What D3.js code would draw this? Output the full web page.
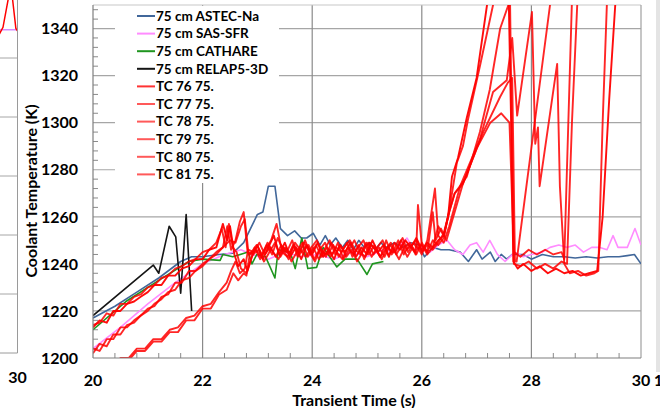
<!DOCTYPE html>
<html>
<head>
<meta charset="utf-8">
<script src="https://cdn.jsdelivr.net/npm/d3@7"></script>
<style>
  body { margin: 0; background: #fff; }
  svg { display: block; font-family: Lato, "Open Sans", sans-serif; }
</style>
</head>
<body>
<div id="chart"></div>
<script>
// tick values
const xTicks = [20, 22, 24, 26, 28, 30];
const yTicks = [1200, 1220, 1240, 1260, 1280, 1300, 1320, 1340];

// code results
const astec = [[20.0,1217],[20.4,1222],[20.8,1228],[21.2,1234],[21.6,1241],[21.8,1243],[22.0,1243],[22.3,1244],[22.55,1244.5],[22.75,1249],[23.0,1261],[23.1,1262],[23.2,1273],[23.32,1273],[23.42,1255],[23.55,1252],[23.68,1254],[23.8,1251],[23.9,1251],[24.02,1253],[24.14,1248],[24.24,1252],[24.33,1248],[24.43,1251],[24.55,1247],[24.65,1250],[24.75,1246],[24.85,1250],[24.95,1247],[25.05,1249],[25.15,1246],[25.25,1249],[25.35,1247],[25.5,1249],[25.65,1247],[25.8,1249],[25.95,1248],[26.05,1243],[26.2,1247],[26.35,1246],[26.5,1246],[26.7,1245],[26.85,1241],[27.0,1246],[27.1,1242],[27.25,1245],[27.34,1241],[27.45,1244],[27.55,1242],[27.65,1244],[27.85,1244],[28.0,1242],[28.2,1244],[28.4,1243],[28.6,1243],[28.8,1242.5],[29.0,1243],[29.2,1242.5],[29.4,1243],[29.6,1243],[29.75,1243.5],[29.88,1244],[30.0,1240]];
const sasSfr = [[20.0,1204],[20.5,1213],[21.0,1223],[21.5,1232],[22.0,1240],[22.4,1244],[22.7,1246],[22.9,1244],[23.2,1242],[23.5,1245],[23.8,1243],[24.1,1244],[24.4,1242],[24.7,1245],[25.0,1243],[25.3,1246],[25.5,1245],[25.73,1251],[25.85,1246],[26.0,1247],[26.15,1245],[26.3,1248],[26.46,1250],[26.6,1246],[26.75,1244],[26.88,1248],[27.0,1249],[27.12,1245],[27.24,1250],[27.38,1244],[27.52,1241],[27.7,1245],[27.85,1243],[28.0,1244],[28.2,1245],[28.34,1247],[28.5,1248],[28.65,1247],[28.8,1248],[28.95,1245],[29.1,1247],[29.25,1247],[29.38,1246],[29.49,1252],[29.58,1247],[29.75,1247],[29.89,1255],[30.0,1248]];
const cathare = [[20.0,1212],[20.6,1224],[21.2,1233],[21.75,1241],[22.0,1242],[22.32,1241.5],[22.37,1244],[22.55,1243],[22.83,1245],[22.9,1240],[22.99,1244],[23.15,1243],[23.32,1234],[23.38,1246],[23.6,1245],[23.69,1238],[23.81,1251],[23.92,1238],[24.08,1238.5],[24.2,1247],[24.32,1243],[24.45,1238.7],[24.6,1242],[24.82,1242],[25.0,1235.5],[25.1,1240],[25.3,1241]];
const relap = [[20.0,1218],[21.1,1239.5],[21.2,1236],[21.39,1256],[21.51,1251.5],[21.6,1227.5],[21.7,1261],[21.8,1220]];

// thermocouples: ramp, noisy plateau (sampled every 0.1 s), late excursions
const plateauTime = [22.9,23.0,23.1,23.2,23.3,23.4,23.5,23.6,23.7,23.8,23.9,24.0,24.1,24.2,24.3,24.4,24.5,24.6,24.7,24.8,24.9,25.0,25.1,25.2,25.3,25.4,25.5,25.6,25.7,25.8];

const tc76Start = [[20.0,1213],[20.12,1216],[20.25,1215],[20.37,1220],[20.5,1220],[20.62,1223],[20.75,1224],[20.87,1226],[21.0,1228],[21.12,1231],[21.25,1231],[21.37,1235],[21.5,1235],[21.62,1238],[21.75,1239],[21.87,1242],[22.0,1242],[22.12,1246],[22.25,1247],[22.37,1257],[22.45,1250],[22.5,1256],[22.58,1244],[22.65,1239],[22.75,1242],[22.82,1237]];
const tc76Plateau = [1243,1248,1242,1247,1252,1244,1249,1243,1247,1242,1248,1244,1249,1243,1246,1242,1248,1245,1249,1243,1247,1244,1250,1245,1248,1243,1249,1246,1250,1247];
const tc76End = [[25.9,1251],[26.0,1246],[26.1,1249],[26.2,1247],[26.3,1250],[26.4,1252],[26.48,1260],[26.55,1277],[26.66,1285],[26.82,1302],[27.0,1319],[27.19,1350],[27.35,1372],[27.5,1378],[27.58,1360],[27.63,1300],[27.67,1241],[27.75,1238],[27.85,1240],[28.0,1237],[28.15,1239],[28.3,1236],[28.45,1238],[28.6,1236],[28.75,1237],[28.9,1235],[29.05,1236],[29.2,1237],[29.3,1260],[29.42,1310],[29.53,1350],[29.6,1370]];

const tc77Start = [[20.0,1214],[20.12,1215],[20.25,1219],[20.37,1218],[20.5,1223],[20.62,1223],[20.75,1226],[20.87,1227],[21.0,1230],[21.12,1231],[21.25,1234],[21.37,1235],[21.5,1238],[21.62,1239],[21.75,1241],[21.87,1242],[22.0,1245],[22.12,1246],[22.25,1249],[22.35,1255],[22.42,1247],[22.48,1257],[22.55,1247],[22.62,1245],[22.7,1238],[22.8,1236]];
const tc77Plateau = [1247,1242,1246,1250,1257,1245,1243,1248,1244,1249,1245,1241,1247,1243,1249,1245,1242,1247,1244,1248,1242,1249,1246,1243,1250,1244,1247,1251,1245,1249];
const tc77End = [[25.9,1247],[25.93,1265],[26.0,1248],[26.1,1245],[26.2,1250],[26.3,1248],[26.4,1251],[26.51,1264],[26.64,1283],[26.75,1290],[26.84,1301],[27.06,1324],[27.3,1350],[27.45,1375],[27.6,1390]];

const tc78Start = [[20.0,1202],[20.12,1206],[20.25,1205],[20.37,1210],[20.5,1210],[20.62,1214],[20.75,1215],[20.87,1218],[21.0,1220],[21.12,1223],[21.25,1225],[21.37,1228],[21.5,1229],[21.62,1233],[21.75,1234],[21.87,1237],[22.0,1239],[22.12,1242],[22.25,1244],[22.37,1247],[22.45,1256],[22.52,1246],[22.6,1250],[22.68,1258],[22.75,1262],[22.82,1245]];
const tc78Plateau = [1244,1246,1241,1245,1249,1243,1247,1241,1245,1249,1243,1247,1242,1246,1250,1244,1248,1243,1246,1241,1245,1249,1244,1247,1243,1248,1245,1250,1246,1248];
const tc78End = [[25.9,1250],[26.0,1245],[26.1,1248],[26.2,1246],[26.3,1249],[26.4,1253],[26.5,1262],[26.6,1270],[26.82,1277],[27.06,1296],[27.24,1314],[27.43,1340],[27.61,1352],[27.64,1300],[27.68,1240],[27.8,1239],[27.95,1241],[28.1,1238],[28.25,1240],[28.4,1238],[28.55,1241],[28.65,1240],[28.74,1300],[28.84,1352],[28.9,1370]];

const tc79Start = [[20.0,1204],[20.12,1203],[20.25,1208],[20.37,1208],[20.5,1213],[20.62,1213],[20.75,1216],[20.87,1218],[21.0,1221],[21.12,1222],[21.25,1226],[21.37,1227],[21.5,1232],[21.62,1232],[21.75,1237],[21.87,1237],[22.0,1240],[22.12,1242],[22.25,1245],[22.37,1247],[22.5,1250],[22.6,1249],[22.7,1256],[22.77,1259],[22.84,1244]];
const tc79Plateau = [1246,1243,1248,1244,1251,1246,1242,1248,1245,1250,1244,1248,1243,1247,1244,1249,1242,1246,1250,1245,1243,1248,1246,1242,1247,1245,1250,1244,1248,1245];
const tc79End = [[25.9,1248],[26.0,1244],[26.1,1250],[26.24,1272],[26.3,1252],[26.4,1249],[26.5,1256],[26.7,1273],[27.06,1293],[27.3,1313],[27.55,1318],[27.65,1336],[27.74,1303],[28.01,1347],[28.07,1291],[28.12,1298],[28.15,1273],[28.47,1325],[28.52,1273],[28.6,1240],[28.7,1236],[28.85,1237],[29.0,1235],[29.15,1236],[29.22,1237],[29.3,1300],[29.38,1352],[29.45,1375]];

const tc80Start = [[20.0,1193],[20.2,1196],[20.35,1196],[20.5,1200],[20.65,1200],[20.8,1204],[20.95,1204],[21.1,1208],[21.25,1208],[21.4,1212],[21.55,1213],[21.7,1217],[21.85,1218],[22.0,1222],[22.15,1223],[22.3,1228],[22.44,1232],[22.52,1237],[22.6,1241],[22.68,1236],[22.77,1238],[22.83,1246]];
const tc80Plateau = [1245,1249,1244,1247,1243,1248,1245,1250,1243,1246,1248,1242,1246,1249,1243,1247,1245,1249,1243,1247,1250,1244,1248,1243,1246,1249,1244,1248,1243,1247];
const tc80End = [[25.9,1244],[26.0,1249],[26.1,1245],[26.2,1262],[26.25,1250],[26.35,1255],[26.45,1250],[26.55,1258],[26.75,1274],[27.12,1296],[27.43,1311],[27.57,1317],[27.65,1319],[27.7,1241],[27.73,1241],[28.34,1350],[28.4,1362]];

const tc81Start = [[20.0,1191],[20.2,1195],[20.35,1195],[20.5,1199],[20.65,1199],[20.8,1203],[20.95,1203],[21.1,1207],[21.25,1207],[21.4,1211],[21.55,1211],[21.7,1216],[21.85,1216],[22.0,1221],[22.15,1221],[22.3,1227],[22.44,1229],[22.56,1236],[22.65,1233],[22.75,1236],[22.8,1235],[22.86,1244]];
const tc81Plateau = [1248,1244,1249,1245,1242,1247,1244,1249,1246,1243,1247,1250,1245,1244,1248,1243,1247,1250,1246,1244,1249,1243,1247,1250,1244,1246,1242,1247,1249,1244];
const tc81End = [[25.9,1246],[26.0,1248],[26.1,1244],[26.2,1247],[26.3,1256],[26.4,1252],[26.5,1262],[26.6,1270],[26.75,1274],[27.0,1289],[27.25,1300],[27.45,1304],[27.6,1300],[27.68,1245],[27.8,1243],[27.95,1246],[28.1,1244],[28.25,1246],[28.4,1244],[28.55,1245],[28.6,1242],[28.74,1352],[28.8,1370]];

// sampling offset of each logger channel on the plateau (s)
const tcOffsets = [0, 0.05, 0.02, 0.07, 0.035, 0.085];

// fragment of the neighbouring panel at the left edge
const leftGrid = [1250, 1300, 1350, 1400, 1450];
const leftRed = [[29.66,1470],[29.73,1476],[29.84,1503]];
const leftRed2 = [[29.9,1503],[29.97,1475],[30.0,1473]];
const leftPink = [[29.62,1474],[30.0,1474]];

function joinTc(start, plateau, end, off) {
  return start.concat(plateau.map((v, i) => [plateauTime[i] + off, v]), end);
}

const series = [
  { name: "75 cm ASTEC-Na", data: astec, color: "#41679a", width: 1.6, op: 1 },
  { name: "75 cm SAS-SFR", data: sasSfr, color: "#ff8cff", width: 1.6, op: 1 },
  { name: "75 cm CATHARE", data: cathare, color: "#1f951f", width: 1.6, op: 1 },
  { name: "75 cm RELAP5-3D", data: relap, color: "#151515", width: 1.6, op: 1 },
  { name: "TC 76 75.", data: joinTc(tc76Start, tc76Plateau, tc76End, tcOffsets[0]), color: "#ff0000", width: 1.9, op: 0.95 },
  { name: "TC 77 75.", data: joinTc(tc77Start, tc77Plateau, tc77End, tcOffsets[1]), color: "#ff0000", width: 1.9, op: 0.85 },
  { name: "TC 78 75.", data: joinTc(tc78Start, tc78Plateau, tc78End, tcOffsets[2]), color: "#ff0000", width: 1.9, op: 0.85 },
  { name: "TC 79 75.", data: joinTc(tc79Start, tc79Plateau, tc79End, tcOffsets[3]), color: "#ff0000", width: 1.9, op: 0.85 },
  { name: "TC 80 75.", data: joinTc(tc80Start, tc80Plateau, tc80End, tcOffsets[4]), color: "#ff0000", width: 1.9, op: 0.85 },
  { name: "TC 81 75.", data: joinTc(tc81Start, tc81Plateau, tc81End, tcOffsets[5]), color: "#ff0000", width: 1.9, op: 0.85 }
];

const width = 660, height = 408;
const svg = d3.select("#chart").append("svg").attr("width", width).attr("height", height);

const x = d3.scaleLinear().domain([20, 30]).range([93, 641]);
const y = d3.scaleLinear().domain([1200, 1350]).range([358, 5]);

// left fragment
const xL = d3.scaleLinear().domain([20, 30]).range([-520, 17.5]);
const yL = d3.scaleLinear().domain([1200, 1500]).range([353, -1]);
const left = svg.append("g");
left.append("clipPath").attr("id", "clipL").append("rect").attr("x", 0).attr("y", 0).attr("width", 17.5).attr("height", 353);
left.selectAll("line.lg").data(leftGrid).enter().append("line")
  .attr("x1", 0).attr("x2", 17.5).attr("y1", d => yL(d)).attr("y2", d => yL(d))
  .attr("stroke", "#a6a6a6").attr("stroke-width", 1);
const lineL = d3.line().x(d => xL(d[0])).y(d => yL(d[1]));
const lg = left.append("g").attr("clip-path", "url(#clipL)");
lg.append("path").attr("d", lineL(leftPink)).attr("fill", "none").attr("stroke", "#d58cff").attr("stroke-width", 1.5);
[leftRed, leftRed2].forEach(d => lg.append("path").attr("d", lineL(d)).attr("fill", "none").attr("stroke", "#ff0000").attr("stroke-width", 1.5));
left.append("line").attr("x1", 17.5).attr("x2", 17.5).attr("y1", 0).attr("y2", 353).attr("stroke", "#9a9a9a");
left.append("line").attr("x1", 0).attr("x2", 17.5).attr("y1", 353).attr("y2", 353).attr("stroke", "#9a9a9a");
left.append("text").attr("x", xL(30)).attr("y", 383).attr("text-anchor", "middle")
  .style("font-size", "16px").style("font-weight", "bold").text("30");

// right edge strip (next panel starts here)
svg.append("rect").attr("x", 656).attr("y", 0).attr("width", 4).attr("height", 372).attr("fill", "#e4e4e4");
svg.append("text").attr("x", 654).attr("y", 386).style("font-size", "15px").style("font-weight", "bold").text("1");

// grid
const grid = svg.append("g");
grid.selectAll("line.h").data(yTicks.slice(1)).enter().append("line")
  .attr("x1", 93).attr("x2", 641).attr("y1", d => y(d)).attr("y2", d => y(d))
  .attr("stroke", "#a6a6a6").attr("stroke-width", 1.2);
grid.selectAll("line.v").data(xTicks.slice(1, -1)).enter().append("line")
  .attr("x1", d => x(d)).attr("x2", d => x(d)).attr("y1", 5).attr("y2", 358)
  .attr("stroke", "#8a8a8a").attr("stroke-width", 1.2);
// frame
svg.append("line").attr("x1", 93).attr("x2", 641).attr("y1", 5).attr("y2", 5).attr("stroke", "#c8c8c8").attr("stroke-width", 1.2);
svg.append("line").attr("x1", 641).attr("x2", 641).attr("y1", 5).attr("y2", 358).attr("stroke", "#a0a0a0").attr("stroke-width", 1.2);

// minor ticks, inside
const yMinor = d3.range(1204, 1350, 4).filter(v => (v - 1200) % 20 !== 0);
svg.selectAll("line.ym").data(yMinor).enter().append("line")
  .attr("x1", 93).attr("x2", 98).attr("y1", d => y(d)).attr("y2", d => y(d))
  .attr("stroke", "#8a8a8a");
const xMinor = d3.range(20.4, 30, 0.4).filter(v => Math.abs(v / 2 - Math.round(v / 2)) > 0.01);
svg.selectAll("line.xm").data(xMinor).enter().append("line")
  .attr("x1", d => x(d)).attr("x2", d => x(d)).attr("y1", 358).attr("y2", 353)
  .attr("stroke", "#8a8a8a");

// data
svg.append("clipPath").attr("id", "clip").append("rect")
  .attr("x", 93).attr("y", 5).attr("width", 548).attr("height", 353);
const line = d3.line().x(d => x(d[0])).y(d => y(d[1]));
const plot = svg.append("g").attr("clip-path", "url(#clip)");
series.forEach(s => {
  plot.append("path").attr("d", line(s.data)).attr("fill", "none")
    .attr("stroke", s.color).attr("stroke-width", s.width).attr("stroke-opacity", s.op)
    .attr("stroke-linejoin", "round");
});

// axes lines
svg.append("line").attr("x1", 93).attr("x2", 93).attr("y1", 5).attr("y2", 358).attr("stroke", "#7f7f7f").attr("stroke-width", 1.2);
svg.append("line").attr("x1", 93).attr("x2", 641).attr("y1", 358).attr("y2", 358).attr("stroke", "#7f7f7f").attr("stroke-width", 1.2);

// tick labels
svg.selectAll("text.yt").data(yTicks).enter().append("text")
  .attr("x", 78).attr("y", d => y(d)).attr("dy", "0.36em").attr("text-anchor", "end")
  .style("font-size", "16px").style("font-weight", "bold").text(d => d);
svg.selectAll("text.xt").data(xTicks).enter().append("text")
  .attr("x", d => x(d)).attr("y", 385.5).attr("text-anchor", "middle")
  .style("font-size", "16px").style("font-weight", "bold").text(d => d);

// axis titles
svg.append("text").attr("transform", "translate(37,191) rotate(-90)").attr("text-anchor", "middle")
  .style("font-size", "16px").style("font-weight", "bold").text("Coolant Temperature (K)");
svg.append("text").attr("x", 354).attr("y", 405.5).attr("text-anchor", "middle")
  .style("font-size", "16px").style("font-weight", "bold").text("Transient Time (s)");

// legend
const legend = svg.append("g");
legend.append("rect").attr("x", 115).attr("y", 6).attr("width", 164).attr("height", 177).attr("fill", "#fff");
series.forEach((s, i) => {
  const ly = 16 + i * 17.6;
  legend.append("line").attr("x1", 137).attr("x2", 155).attr("y1", ly).attr("y2", ly)
    .attr("stroke", s.color).attr("stroke-width", 2).attr("stroke-opacity", i === 4 ? 0.8 : (i > 4 ? 0.65 : 1));
  legend.append("text").attr("x", 156).attr("y", ly).attr("dy", "0.36em")
    .style("font-size", "13.5px").style("font-weight", "bold").text(s.name);
});
</script>
</body>
</html>
